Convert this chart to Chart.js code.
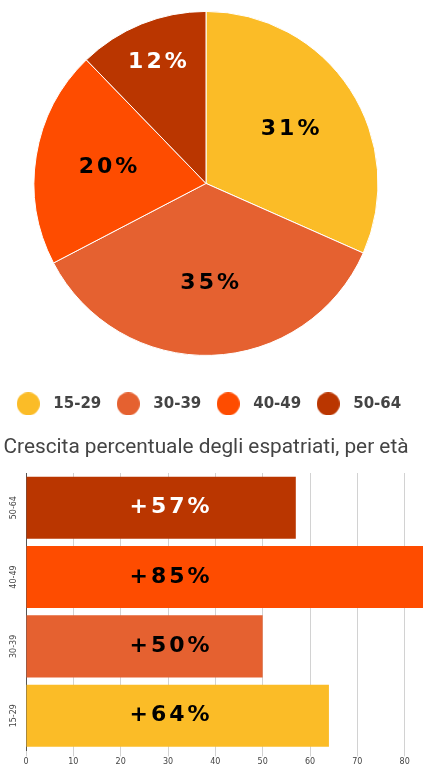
<!DOCTYPE html>
<html>
<head>
<meta charset="utf-8">
<script src="https://cdn.jsdelivr.net/npm/chart.js@4.4.1/dist/chart.umd.min.js"></script>
<style>
  html, body { margin: 0; padding: 0; background: #fff; overflow: hidden; width: 423px; height: 766px; }
  #torta { display: block; margin-left: -14px; }
  #barre { display: block; }
</style>
</head>
<body>
<canvas id="torta" width="440" height="464"></canvas>
<canvas id="barre" width="480" height="304"></canvas>
<script>
// quota degli espatriati per fascia d'età (%)
const fasce = ["15-29", "30-39", "40-49", "50-64"];
const quote = [31, 35, 20, 12];
const coloriFasce = ["#FBBC27", "#E56130", "#FE4C00", "#BA3600"];
const coloriTestoTorta = ["#000", "#000", "#000", "#fff"];

// crescita percentuale, dall'alto in basso
const fasceBarre = ["50-64", "40-49", "30-39", "15-29"];
const crescita = [57, 85, 50, 64];
const coloriBarre = ["#BA3600", "#FE4C00", "#E56130", "#FBBC27"];
const coloriTestoBarre = ["#fff", "#000", "#000", "#000"];

const titolo = "Crescita percentuale degli espatriati, per età";

// pallini della legenda
function pallino(colore) {
  const c = document.createElement("canvas");
  c.width = 23;
  c.height = 23;
  const g = c.getContext("2d");
  g.fillStyle = colore;
  g.beginPath();
  g.arc(11.5, 11.5, 11.5, 0, Math.PI * 2);
  g.fill();
  return c;
}
const pallini = coloriFasce.map(pallino);

const etichetteTorta = {
  id: "etichetteTorta",
  afterDatasetsDraw(chart) {
    const ctx = chart.ctx;
    const meta = chart.getDatasetMeta(0);
    ctx.save();
    ctx.font = "bold 22px 'DejaVu Sans'";
    ctx.letterSpacing = "3px";
    ctx.textAlign = "center";
    ctx.textBaseline = "middle";
    meta.data.forEach((arc, i) => {
      const {x, y, startAngle, endAngle, outerRadius} = arc.getProps(["x", "y", "startAngle", "endAngle", "outerRadius"], true);
      const mid = (startAngle + endAngle) / 2;
      const frac = (endAngle - startAngle) < 1 ? 0.76 : 0.58;
      ctx.fillStyle = coloriTestoTorta[i];
      ctx.fillText(quote[i] + "%", x + Math.cos(mid) * outerRadius * frac + 2, y + Math.sin(mid) * outerRadius * frac);
    });
    ctx.restore();
  }
};

new Chart(document.getElementById("torta"), {
  type: "pie",
  data: {
    labels: fasce,
    datasets: [{
      data: quote,
      backgroundColor: coloriFasce,
      borderColor: "#fff",
      borderWidth: 1,
      radius: 172
    }]
  },
  options: {
    responsive: false,
    animation: false,
    layout: { padding: 0 },
    plugins: {
      tooltip: { enabled: false },
      legend: {
        position: "bottom",
        title: { display: true, text: " ", font: { size: 1 }, padding: { top: 18.8, bottom: 0 } },
        labels: {
          usePointStyle: true,
          pointStyleWidth: 35,
          padding: 9.5,
          color: "#444",
          font: { family: "'DejaVu Sans'", size: 15, weight: "bold" },
          generateLabels: (chart) => {
            const items = Chart.overrides.pie.plugins.legend.labels.generateLabels(chart);
            items.forEach((it, i) => { it.pointStyle = pallini[i]; });
            return items;
          }
        }
      },
      title: {
        display: true,
        position: "bottom",
        text: titolo,
        color: "#444",
        padding: { top: 13.7, bottom: 4 },
        font: { family: "Roboto", size: 20.8, weight: "normal" }
      }
    }
  },
  plugins: [etichetteTorta]
});

const etichetteBarre = {
  id: "etichetteBarre",
  afterDatasetsDraw(chart) {
    const ctx = chart.ctx;
    const meta = chart.getDatasetMeta(0);
    const xc = chart.scales.x.getPixelForValue(30);
    ctx.save();
    ctx.font = "bold 22px 'DejaVu Sans'";
    ctx.letterSpacing = "3px";
    ctx.textAlign = "center";
    ctx.textBaseline = "middle";
    meta.data.forEach((bar, i) => {
      ctx.fillStyle = coloriTestoBarre[i];
      ctx.fillText("+" + crescita[i] + "%", xc + 3, bar.y);
    });
    ctx.restore();
  }
};

new Chart(document.getElementById("barre"), {
  type: "bar",
  data: {
    labels: fasceBarre,
    datasets: [{
      data: crescita,
      backgroundColor: coloriBarre,
      borderWidth: 0,
      barPercentage: 0.895,
      categoryPercentage: 1
    }]
  },
  options: {
    indexAxis: "y",
    responsive: false,
    animation: false,
    layout: { padding: { top: 9, left: 0, right: 28, bottom: 0 } },
    plugins: { legend: { display: false }, tooltip: { enabled: false } },
    scales: {
      x: {
        min: 0,
        max: 90,
        ticks: { stepSize: 10, color: "#444", font: { family: "'DejaVu Sans'", size: 8 }, padding: 1 },
        grid: { color: "#d2d2d2", tickLength: 6 },
        border: { display: false }
      },
      y: {
        afterFit: (s) => { s.width = 26; },
        ticks: {
          minRotation: 90,
          maxRotation: 90,
          crossAlign: "center",
          padding: 0,
          color: "#444",
          font: { family: "'DejaVu Sans'", size: 8 }
        },
        grid: { display: false, drawTicks: false },
        border: { display: true, color: "#555", width: 1 }
      }
    }
  },
  plugins: [etichetteBarre]
});
</script>
</body>
</html>
